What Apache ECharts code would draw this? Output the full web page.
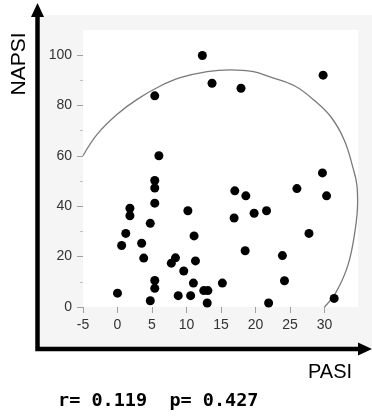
<!DOCTYPE html>
<html>
<head>
<meta charset="utf-8">
<script src="https://cdn.jsdelivr.net/npm/echarts@6/dist/echarts.min.js"></script>
<style>
html,body{margin:0;padding:0;background:#fff;}
#chart{width:372px;height:417px;}
</style>
</head>
<body>
<div id="chart"></div>
<script>
// PASI (x) values of the patients
var pasi = [5.4, 6.0, 12.3, 13.7, 17.9, 29.8, 5.4, 5.4, 5.4, 1.8, 1.8, 4.75, 1.2, 0.6, 3.5, 3.8, 8.4, 7.8, 5.4, 5.4, 4.75, 0, 8.8, 17.0, 18.6, 10.2, 16.9, 19.8, 21.6, 11.1, 18.5, 11.3, 9.6, 11.0, 15.2, 12.5, 13.1, 10.6, 13.0, 21.9, 29.7, 26.0, 30.3, 27.75, 23.9, 24.2, 31.4];
// NAPSI (y) values of the patients
var napsi = [83.8, 60, 99.8, 88.8, 86.8, 92, 50.2, 47.2, 41.2, 39.2, 36.2, 33.2, 29.2, 24.4, 25.3, 19.4, 19.5, 17.4, 10.5, 7.4, 2.5, 5.5, 4.5, 46.1, 44.1, 38.2, 35.3, 37.2, 38.2, 28.2, 22.3, 18.3, 14.3, 9.5, 9.5, 6.5, 6.5, 4.5, 1.6, 1.6, 53.2, 47.0, 44.1, 29.2, 20.4, 10.4, 3.4];
// hand-drawn enclosing curve
var curveX = [-5, -2.9, 0, 2.9, 6.2, 9.1, 13, 16.3, 19.7, 22.1, 25.7, 28.6, 31, 32.9, 34.1, 34.7, 34.8, 34.4, 33.4, 31.7, 30];
var curveY = [60, 68.7, 76.6, 82.5, 87.7, 91, 93.4, 94.1, 93.4, 91.3, 87.7, 81.8, 75.2, 66, 55.5, 48.2, 41.6, 29.8, 16.6, 6.0, 0];
// tick range
var xMin = -5, xMax = 30, xStep = 5, xPanelMax = 35;
var yMin = 0, yMax = 100, yStep = 20;
var xName = 'PASI';
var yName = 'NAPSI';
var statText = 'r= 0.119  p= 0.427';

var points = pasi.map(function (v, i) { return [v, napsi[i]]; });
var curve = curveX.map(function (v, i) { return [v, curveY[i]]; });

var gridLeft = 83, gridTop = 55, gridW = 241.5, gridH = 252;
var pxPerX = gridW / (xMax - xMin);

var chart = echarts.init(document.getElementById('chart'), null, {renderer: 'canvas'});
var labelFont = '"Liberation Sans", Arial, Helvetica, sans-serif';
chart.setOption({
  animation: false,
  backgroundColor: '#ffffff',
  grid: [
    {left: gridLeft, top: gridTop, width: gridW, height: gridH, show: false},
    {left: gridLeft, top: gridTop, width: pxPerX * (xPanelMax - xMin), height: gridH, show: false}
  ],
  xAxis: [{
    gridIndex: 0,
    type: 'value', min: xMin, max: xMax, interval: xStep,
    axisLine: {show: false, onZero: false},
    splitLine: {show: false},
    axisTick: {show: true, length: 6, lineStyle: {color: '#a0a0a0', width: 1}},
    axisLabel: {color: '#333333', fontSize: 14, margin: 11, fontFamily: labelFont}
  }, {
    gridIndex: 1,
    type: 'value', min: xMin, max: xPanelMax, interval: xStep, show: false,
    axisLine: {onZero: false}
  }],
  yAxis: [{
    gridIndex: 0,
    type: 'value', min: yMin, max: yMax, interval: yStep,
    axisLine: {show: false, onZero: false},
    splitLine: {show: false},
    axisTick: {show: true, length: 6, lineStyle: {color: '#a0a0a0', width: 1}},
    minorTick: {show: true, splitNumber: 2, length: 3, lineStyle: {color: '#c0c0c0', width: 1}},
    minorSplitLine: {show: false},
    axisLabel: {color: '#333333', fontSize: 14, margin: 11, fontFamily: labelFont}
  }, {
    gridIndex: 1,
    type: 'value', min: yMin, max: yMax, interval: yStep, show: false,
    axisLine: {onZero: false}
  }],
  series: [{
    type: 'line',
    xAxisIndex: 1, yAxisIndex: 1,
    data: curve,
    smooth: 0.4,
    symbol: 'none',
    clip: false,
    lineStyle: {color: '#7a7a7a', width: 1.3},
    z: 2
  }, {
    type: 'scatter',
    xAxisIndex: 0, yAxisIndex: 0,
    data: points,
    symbol: 'circle',
    symbolSize: 9,
    clip: false,
    itemStyle: {color: '#000000', opacity: 1},
    z: 3
  }],
  graphic: [
    {type: 'rect', z: -10, silent: true, shape: {x: 40, y: 15, width: 332, height: 333}, style: {fill: '#f5f5f5'}},
    {type: 'rect', z: -9, silent: true, shape: {x: 83, y: 30, width: 275, height: 277}, style: {fill: '#ffffff'}},
    {type: 'polyline', z: 10, silent: true, shape: {points: [[37.5, 16], [37.5, 349], [361, 349]]}, style: {stroke: '#000', lineWidth: 4.5, fill: null}},
    {type: 'polygon', z: 10, silent: true, shape: {points: [[37.5, 3], [31, 17], [44, 17]]}, style: {fill: '#000'}},
    {type: 'polygon', z: 10, silent: true, shape: {points: [[372, 349], [358, 342.5], [358, 355.5]]}, style: {fill: '#000'}},
    {type: 'text', z: 10, silent: true, x: 19, y: 64, rotation: Math.PI / 2,
      style: {text: yName, font: '21px "Liberation Sans", Arial, sans-serif', fill: '#000', align: 'center', verticalAlign: 'middle'}},
    {type: 'text', z: 10, silent: true, x: 330, y: 372,
      style: {text: xName, font: '20px "Liberation Sans", Arial, sans-serif', fill: '#000', align: 'center', verticalAlign: 'middle'}},
    {type: 'text', z: 10, silent: true, x: 58, y: 401,
      style: {text: statText, font: 'bold 18.5px "DejaVu Sans Mono", monospace', fill: '#000', align: 'left', verticalAlign: 'middle'}}
  ]
});
</script>
</body>
</html>
